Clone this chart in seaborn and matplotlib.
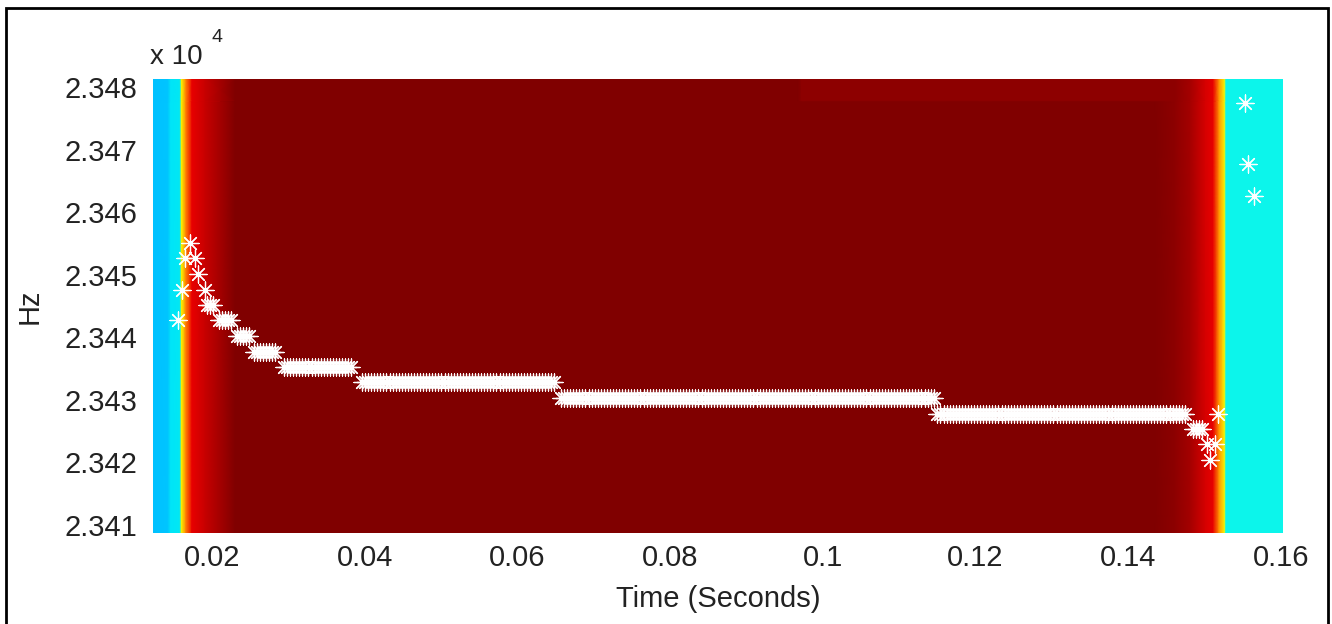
import matplotlib
matplotlib.use("Agg")
import matplotlib.pyplot as plt
from matplotlib.patches import Rectangle
import seaborn as sns
import pandas as pd
import numpy as np

# axis ranges (spectrogram bin edges)
t_range = [0.01227, 0.16026]
f_range = [23408.7, 23481.3]

x_ticks = [0.02, 0.04, 0.06, 0.08, 0.10, 0.12, 0.14, 0.16]
x_tick_labels = ["0.02", "0.04", "0.06", "0.08", "0.1", "0.12", "0.14", "0.16"]
y_ticks = [23410, 23420, 23430, 23440, 23450, 23460, 23470, 23480]
y_tick_labels = ["2.341", "2.342", "2.343", "2.344", "2.345", "2.346", "2.347", "2.348"]

# background power (jet level) along time, main body and thin top strip
bg_t = [0.01227, 0.01420, 0.01460, 0.01578, 0.01600, 0.01659, 0.01738, 0.01908,
        0.02301, 0.0968, 0.0972, 0.1435, 0.1461, 0.1481, 0.1501, 0.1511,
        0.1519, 0.1526, 0.1528, 0.16026]
bg_level = [0.3125, 0.32, 0.35, 0.355, 0.65, 0.775, 0.91, 0.934,
            1.0, 1.0, 1.0, 1.0, 0.987, 0.965, 0.923, 0.91,
            0.75, 0.65, 0.365, 0.365]
bg_level_top = [0.3125, 0.32, 0.35, 0.355, 0.65, 0.775, 0.91, 0.934,
                1.0, 1.0, 0.987, 0.987, 0.987, 0.965, 0.923, 0.91,
                0.75, 0.65, 0.365, 0.365]
top_strip_f = 23477.8

# frequency track: flat runs of frames (start, end, freq)
hop = 0.0004
run_start = [0.01935, 0.02092, 0.02327, 0.02550, 0.02943, 0.03965, 0.06571, 0.11500, 0.14850]
run_end = [0.02052, 0.02262, 0.02498, 0.02851, 0.03834, 0.06519, 0.11470, 0.14750, 0.14970]
run_freq = [23445.2, 23442.7, 23440.2, 23437.7, 23435.2, 23432.8, 23430.3, 23427.8, 23425.3]

# scattered single detections
single_t = [0.01712, 0.01646, 0.01777, 0.01817, 0.01607, 0.01908, 0.01555,
            0.15030, 0.15140, 0.15070, 0.15180, 0.15530, 0.15570, 0.15640]
single_f = [23455.1, 23452.6, 23452.6, 23450.1, 23447.6, 23447.6, 23442.7,
            23422.9, 23422.9, 23420.4, 23427.8, 23477.4, 23467.7, 23462.6]

track_t, track_f = [], []
for t0, t1, f in zip(run_start, run_end, run_freq):
    ts = np.arange(t0, t1 + 1e-9, hop)
    track_t.extend(ts)
    track_f.extend([f] * len(ts))
track_t.extend(single_t)
track_f.extend(single_f)
df = pd.DataFrame({"time": track_t, "freq": track_f})

sns.set_style("white")
plt.rcParams["font.family"] = ["Liberation Sans", "DejaVu Sans"]

fig = plt.figure(figsize=(13.32, 6.24), dpi=100)
ax = fig.add_axes([153 / 1332, 91 / 624, 1130 / 1332, 454 / 624])

f_nodes = [f_range[0], top_strip_f - 0.1, top_strip_f + 0.1, f_range[1]]
T, F = np.meshgrid(bg_t, f_nodes)
Z = np.vstack([bg_level, bg_level, bg_level_top, bg_level_top])
ax.pcolormesh(T, F, Z, shading="gouraud", cmap="jet", vmin=0, vmax=1, zorder=1)

sns.scatterplot(data=df, x="time", y="freq", marker=(8, 2, 0), s=150,
                color="white", linewidth=0.9, ax=ax, zorder=3, legend=False)

ax.set_xlim(t_range)
ax.set_ylim(f_range)
ax.set_xticks(x_ticks)
ax.set_xticklabels(x_tick_labels)
ax.set_yticks(y_ticks)
ax.set_yticklabels(y_tick_labels)
ax.tick_params(axis="both", length=0, labelsize=21, colors="#222222")
ax.tick_params(axis="x", pad=8)
ax.tick_params(axis="y", pad=11)
for sp in ax.spines.values():
    sp.set_visible(False)

ax.set_xlabel("Time (Seconds)", fontsize=21, color="#222222")
ax.set_ylabel("Hz", fontsize=21, color="#222222")
ax.xaxis.set_label_coords(0.5, -0.115)
ax.yaxis.set_label_coords(-0.097, 0.5)

fig.text(150 / 1332, 1 - 64 / 624, "x 10", fontsize=20, color="#222222", va="baseline")
fig.text(212 / 1332, 1 - 42 / 624, "4", fontsize=14, color="#222222", va="baseline")

fig.add_artist(Rectangle((6 / 1332, -0.05), 1322 / 1332, 1.05 - 8 / 624,
                         transform=fig.transFigure, fill=False,
                         edgecolor="black", linewidth=2))

fig.savefig("out.png", dpi=100)
plt.close(fig)
